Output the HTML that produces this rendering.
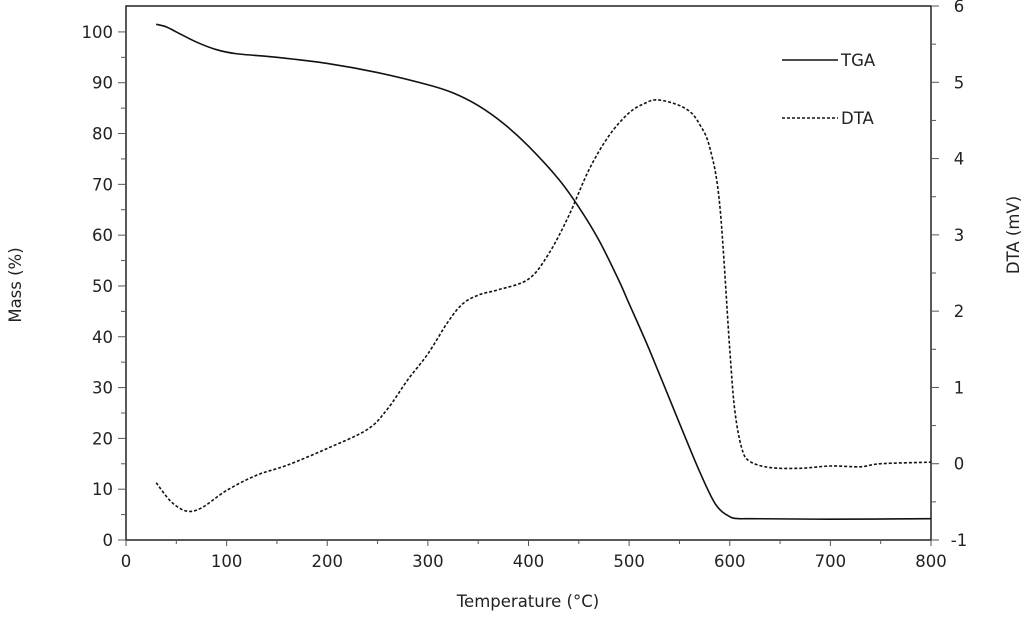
<!DOCTYPE html>
<html><head><meta charset="utf-8"><style>
body{margin:0;background:#fff;}
svg text{font-family:"DejaVu Sans","Liberation Sans",sans-serif;font-size:16.5px;fill:#222;}
</style></head><body>
<svg id="c" width="1024" height="613"></svg>
<script>
const tgaT=[30,40,50,70,90,110,150,200,250,300,325,350,375,400,430,450,470,490,500,520,550,570,586,600,610,620,700,800];
const tgaM=[101.5,101,100,98,96.5,95.7,95,93.8,92,89.6,88,85.5,82,77.5,71,65.5,59,51,46.5,37.5,23,13.5,7,4.6,4.2,4.2,4.1,4.2];
const dtaT=[30,45,60,75,100,130,160,200,240,260,280,300,320,335,352,370,400,420,440,460,480,500,515,527,545,560,570,580,590,600,605,612,620,640,670,700,730,750,800];
const dtaV=[-0.25,-0.5,-0.62,-0.58,-0.35,-0.15,-0.02,0.2,0.45,0.72,1.1,1.44,1.86,2.1,2.22,2.28,2.42,2.75,3.25,3.85,4.3,4.6,4.72,4.77,4.72,4.62,4.45,4.15,3.4,1.5,0.7,0.2,0.03,-0.05,-0.06,-0.03,-0.04,0.0,0.02];
const xTicks=[0,100,200,300,400,500,600,700,800];
const yTicks=[0,10,20,30,40,50,60,70,80,90,100];
const y2Ticks=[-1,0,1,2,3,4,5,6];
const L=126,R=931,T=6,B=540;
const x=v=>L+(v/800)*(R-L);
const y=v=>B-(v/105.1)*(B-T);
const y2=v=>B-((v+1)/7)*(B-T);
const svg=document.getElementById('c');const NS='http://www.w3.org/2000/svg';
function mk(tag,a,txt){const e=document.createElementNS(NS,tag);for(const k in a)e.setAttribute(k,a[k]);if(txt!==undefined)e.textContent=txt;svg.appendChild(e);return e;}
let e=mk('rect',{x:L,y:T,width:R-L,height:B-T,fill:'none',stroke:'#222','stroke-width':1.5});

xTicks.forEach(v=>{const e1=mk('line',{x1:x(v),x2:x(v),y1:B,y2:B+6,stroke:'#555'});

const m=mk('line',{x1:x(v+50),x2:x(v+50),y1:B,y2:B+4,stroke:'#555'});if(v==800)m.remove();
const t=mk('text',{x:x(v),y:B+27,'text-anchor':'middle'},v);
});
yTicks.forEach(v=>{const e1=mk('line',{x1:L-8,x2:L,y1:y(v),y2:y(v),stroke:'#555'});

if(v<100)mk('line',{x1:L-5,x2:L,y1:y(v+5),y2:y(v+5),stroke:'#555'});
const t=mk('text',{x:L-13,y:y(v)+6,'text-anchor':'end'},v);
});
y2Ticks.forEach(v=>{const e1=mk('line',{x1:R,x2:R+8,y1:y2(v),y2:y2(v),stroke:'#555'});

if(v<6)mk('line',{x1:R,x2:R+5,y1:y2(v+0.5),y2:y2(v+0.5),stroke:'#555'});
const t=mk('text',{x:R+28,y:y2(v)+6,'text-anchor':'middle'},v);
});
function path(xs,ys,fy){const p=xs.map((t,i)=>[x(t),fy(ys[i])]);let d='M'+p[0][0]+','+p[0][1];
for(let i=0;i<p.length-1;i++){const p0=p[i-1]||p[i],p1=p[i],p2=p[i+1],p3=p[i+2]||p2;
d+=' C'+(p1[0]+(p2[0]-p0[0])/6)+','+(p1[1]+(p2[1]-p0[1])/6)+' '+(p2[0]-(p3[0]-p1[0])/6)+','+(p2[1]-(p3[1]-p1[1])/6)+' '+p2[0]+','+p2[1];}return d;}
e=mk('path',{d:path(tgaT,tgaM,y),fill:'none',stroke:'#111','stroke-width':1.6});

e=mk('path',{d:path(dtaT,dtaV,y2),fill:'none',stroke:'#111','stroke-width':1.6,'stroke-dasharray':'3,2'});

e=mk('line',{x1:782,x2:838,y1:60,y2:60,stroke:'#111','stroke-width':1.5});

e=mk('text',{x:841,y:66,'font-size':'15'},'TGA');
e=mk('line',{x1:782,x2:838,y1:118,y2:118,stroke:'#111','stroke-width':1.5,'stroke-dasharray':'3,2'});

e=mk('text',{x:841,y:124,'font-size':'15'},'DTA');
e=mk('text',{x:528,y:607,'text-anchor':'middle','font-size':'17'},'Temperature  (°C)');

e=mk('text',{x:0,y:0,'text-anchor':'middle','font-size':'17',transform:'translate(21,285) rotate(-90)'},'Mass (%)');

e=mk('text',{x:0,y:0,'text-anchor':'middle','font-size':'17',transform:'translate(1019,235) rotate(-90)'},'DTA    (mV)');

</script>
</body></html>
